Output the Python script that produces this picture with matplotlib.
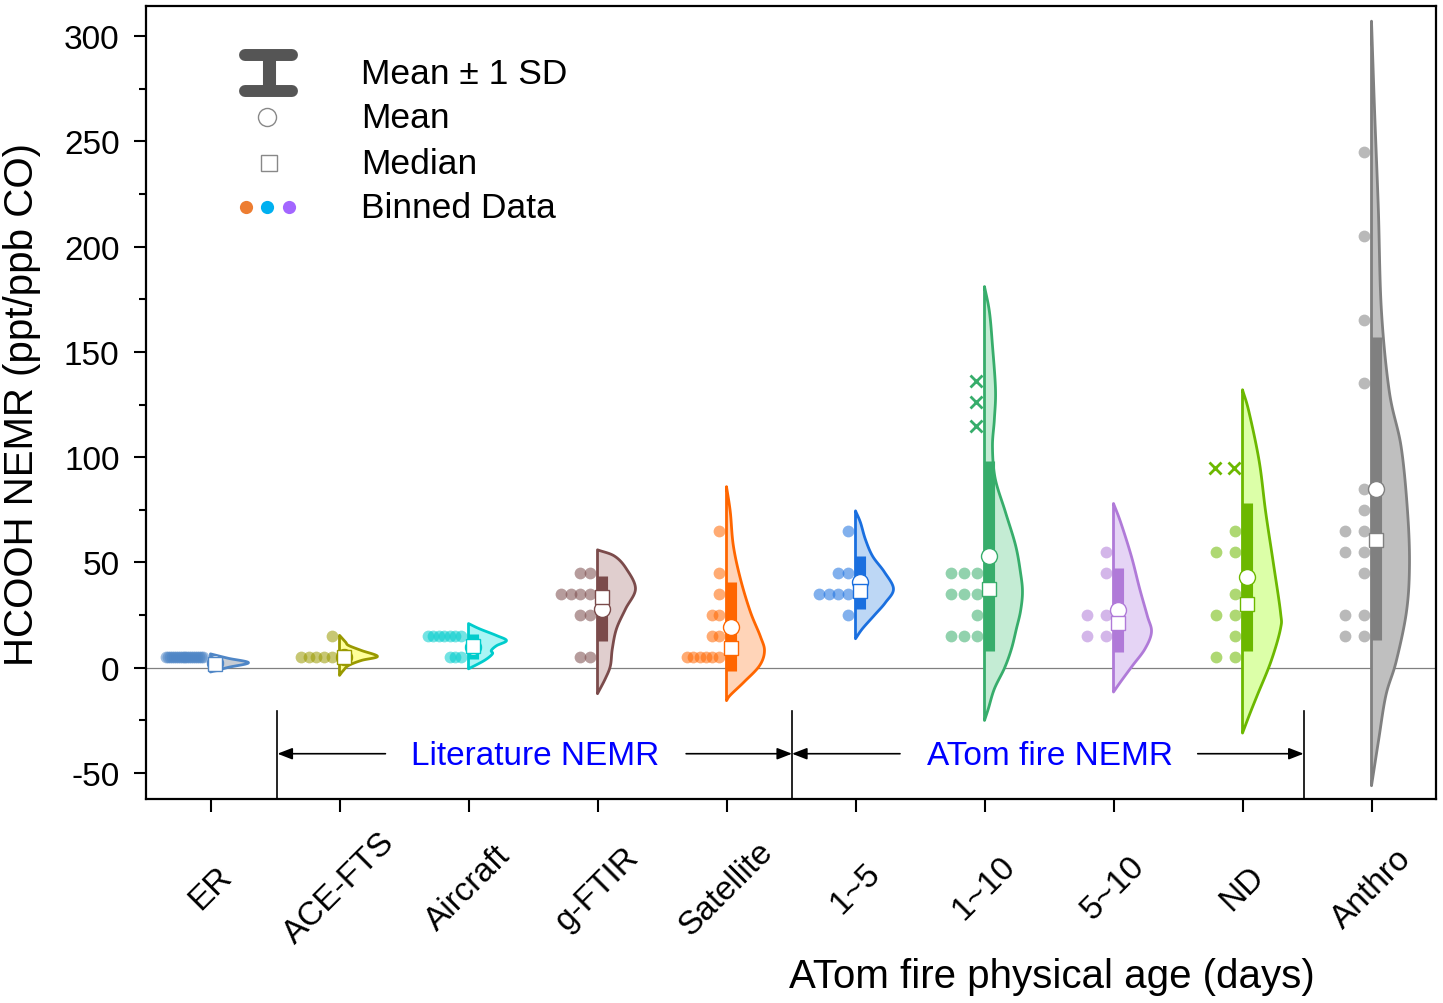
import numpy as np
import matplotlib
matplotlib.use('Agg')
import matplotlib.pyplot as plt
from matplotlib.ticker import MultipleLocator

plt.rcParams['font.family'] = ['Liberation Sans', 'DejaVu Sans']
plt.rcParams['axes.unicode_minus'] = False

categories = ['ER', 'ACE-FTS', 'Aircraft', 'g-FTIR', 'Satellite', '1~5', '1~10', '5~10', 'ND', 'Anthro']

# binned data, one entry per dot (bin centre)
dots_er = [5] * 20
dots_ace = [5, 5, 5, 5, 5, 15]
dots_aircraft = [5, 5, 5, 15, 15, 15, 15, 15, 15, 15]
dots_gftir = [5, 5, 25, 25, 35, 35, 35, 35, 45, 45]
dots_satellite = [5, 5, 5, 5, 5, 5, 15, 15, 25, 25, 35, 45, 65]
dots_1to5 = [25, 35, 35, 35, 35, 45, 45, 65]
dots_1to10 = [15, 15, 15, 25, 35, 35, 35, 45, 45, 45]
dots_5to10 = [15, 15, 25, 25, 45, 55]
dots_nd = [5, 5, 15, 25, 25, 35, 55, 55, 65]
dots_anthro = [15, 15, 25, 25, 45, 55, 55, 65, 65, 75, 85, 135, 165, 205, 245]
outliers_1to10 = [115, 126, 136]
outliers_nd = [95, 95]

means = [2.5, 5, 10, 28, 19.5, 40.5, 53, 27.5, 43, 85]
medians = [2, 5.2, 10.4, 33.5, 9.4, 36.6, 37.5, 21.4, 30.4, 60.8]
sds = [1, 1, 6, 15.5, 21, 12.8, 45, 20, 35, 72]

# violin outlines: value knots and relative density
shape_er = ([-2, 0.2, 2.4, 4.5, 6.6], [0, 0.47, 1, 0.47, 0])
shape_ace = ([-3.6, -1.3, 1.1, 3.5, 5.4, 8.2, 10.6, 12.2, 15.4],
             [0, 0.1, 0.24, 0.58, 1, 0.58, 0.24, 0.16, 0])
shape_aircraft = ([-0.5, 3.5, 6.6, 8.2, 10.5, 12.9, 15.3, 18.5, 21],
                  [0, 0.42, 0.63, 0.6, 0.74, 1, 0.74, 0.29, 0])
shape_gftir = ([-12.3, -5, 1, 9, 18.5, 28, 37.5, 47, 53, 56],
               [0, 0.21, 0.34, 0.39, 0.5, 0.74, 1, 0.76, 0.45, 0])
shape_satellite = ([-15.6, -13, -6.6, 1, 8, 15, 26.5, 42, 58, 74, 86],
                   [0, 0.1, 0.47, 0.87, 1, 0.89, 0.63, 0.37, 0.18, 0.1, 0])
shape_1to5 = ([13.8, 18.5, 25, 31, 37.5, 45.5, 53, 61, 69, 74.5],
              [0, 0.18, 0.5, 0.79, 1, 0.76, 0.45, 0.26, 0.13, 0])
shape_1to10 = ([-25, -19.5, -10, 0, 9, 18.5, 27, 36, 45, 58, 74, 90, 105, 118, 132, 153, 169, 181],
               [0, 0.1, 0.26, 0.53, 0.71, 0.84, 0.95, 1, 0.95, 0.82, 0.55, 0.28, 0.21, 0.26, 0.29, 0.21, 0.13, 0])
shape_5to10 = ([-11.5, -6.6, 1, 9, 17, 24.7, 37.5, 53, 69, 78],
               [0, 0.19, 0.5, 0.83, 1, 0.89, 0.69, 0.47, 0.19, 0])
shape_nd = ([-31, -22, -13, 3, 18.5, 26.5, 50, 74, 98, 121.5, 132],
            [0, 0.19, 0.39, 0.75, 1, 1, 0.81, 0.61, 0.44, 0.17, 0])
shape_anthro = ([-56, -34, -13, 3, 26.5, 48.5, 74, 105, 131, 170, 218, 265, 307],
                [0, 0.19, 0.38, 0.65, 0.92, 1, 0.95, 0.78, 0.47, 0.26, 0.18, 0.08, 0])

edge_colors = ['#4f86c6', '#999900', '#00cccc', '#7b4b4b', '#ff6600',
               '#1a6fdf', '#37ad6b', '#b07ad8', '#6cb800', '#808080']
fill_colors = ['#c8cdd4', '#ffff99', '#aaf5f5', '#e0cece', '#ffd4b8',
               '#bdd7f5', '#c4ecd4', '#e5d4f5', '#dcffa8', '#bfbfbf']

all_dots = [dots_er, dots_ace, dots_aircraft, dots_gftir, dots_satellite,
            dots_1to5, dots_1to10, dots_5to10, dots_nd, dots_anthro]
all_shapes = [shape_er, shape_ace, shape_aircraft, shape_gftir, shape_satellite,
              shape_1to5, shape_1to10, shape_5to10, shape_nd, shape_anthro]
all_outliers = {6: outliers_1to10, 8: outliers_nd}


def smooth(ys, ds, n=16):
    # catmull-rom through the knots
    P = np.column_stack([ys, ds]).astype(float)
    P = np.vstack([2 * P[0] - P[1], P, 2 * P[-1] - P[-2]])
    out = []
    t = np.linspace(0, 1, n, endpoint=False)[:, None]
    for i in range(1, len(P) - 2):
        p0, p1, p2, p3 = P[i - 1], P[i], P[i + 1], P[i + 2]
        seg = 0.5 * (2 * p1 + (-p0 + p2) * t + (2 * p0 - 5 * p1 + 4 * p2 - p3) * t ** 2
                     + (-p0 + 3 * p1 - 3 * p2 + p3) * t ** 3)
        out.append(seg)
    out.append(P[-2][None])
    r = np.vstack(out)
    return r[:, 0], np.clip(r[:, 1], 0, None)


W, H = 1443, 1004
fig = plt.figure(figsize=(W / 100, H / 100), dpi=100)
ax = fig.add_axes([146 / W, 1 - 800 / H, 1290 / W, 793 / H])
ax.set_xlim(0.5, 10.5)
ax.set_ylim(-62.3, 314.2)

px = 1 / 129.1  # one pixel in x data units
half_width = 38 * px
bar_off = 5 * px

ax.axhline(0, color='#808080', lw=0.9, zorder=0)

for i, name in enumerate(categories):
    pos = i + 1
    ec = edge_colors[i]
    ys, ds = smooth(*all_shapes[i])
    xs = pos + ds * half_width
    vx = np.concatenate([[pos], xs, [pos]])
    vy = np.concatenate([[ys[0]], ys, [ys[-1]]])
    ax.fill(vx, vy, facecolor=fill_colors[i], edgecolor=ec, lw=2, zorder=2, joinstyle='round')

    # binned dots, right aligned rows
    vals, counts = np.unique(all_dots[i], return_counts=True)
    out = all_outliers.get(i, [])
    ov, oc = np.unique(out, return_counts=True) if len(out) else ([], [])
    maxn = max(list(counts) + list(oc))
    spacing = 38 / maxn * px
    for v, c in zip(vals, counts):
        dx = pos - 8 * px - np.arange(c) * spacing
        ax.scatter(dx, [v] * c, s=72, color=ec, alpha=0.55, lw=0, zorder=3)
    for v, c in zip(ov, oc):
        dx = pos - 9 * px - np.arange(c) * spacing
        ax.plot(dx, [v] * c, 'x', color=ec, ms=9, mew=2, zorder=3)

    m, md, s = means[i], medians[i], sds[i]
    ax.plot([pos + bar_off] * 2, [m - s, m + s], color=ec, lw=8, solid_capstyle='butt', zorder=4)
    ax.plot(pos + bar_off, m, 'o', ms=11.5, mfc='white', mec=ec, mew=1, zorder=5)
    ax.plot(pos + bar_off, md, 's', ms=9.5, mfc='white', mec=ec, mew=1, zorder=6)

# group separators and arrows
for xv in [1.519, 5.508, 9.474]:
    ax.plot([xv, xv], [-20.4, -62.3], color='black', lw=1.2, zorder=1)
arrow = dict(arrowstyle='-|>,head_length=0.9,head_width=0.35', color='black', lw=1.2,
             shrinkA=0, shrinkB=0)
ax.annotate('', xy=(1.519, -40.8), xytext=(2.356, -40.8), arrowprops=arrow)
ax.annotate('', xy=(5.508, -40.8), xytext=(4.687, -40.8), arrowprops=arrow)
ax.annotate('', xy=(5.508, -40.8), xytext=(6.345, -40.8), arrowprops=arrow)
ax.annotate('', xy=(9.474, -40.8), xytext=(8.653, -40.8), arrowprops=arrow)
ax.text(3.517, -41.5, 'Literature NEMR', color='#0000ff', fontsize=24, ha='center', va='center')
ax.text(7.51, -41.5, 'ATom fire NEMR', color='#0000ff', fontsize=24, ha='center', va='center')

# legend
def fx(p):
    return (p - 146) / 1290


def fy(p):
    return (800 - p) / 793


tr = ax.transAxes
ax.plot([fx(245), fx(292)], [fy(56), fy(56)], color='#555555', lw=8.6, solid_capstyle='round', transform=tr)
ax.plot([fx(245), fx(292)], [fy(92), fy(92)], color='#555555', lw=8.6, solid_capstyle='round', transform=tr)
ax.plot([fx(268.5), fx(268.5)], [fy(56), fy(92)], color='#555555', lw=9.4, solid_capstyle='butt', transform=tr)
ax.plot(fx(267), fy(118), 'o', ms=13, mfc='white', mec='#888888', mew=1, transform=tr)
ax.plot(fx(269), fy(164), 's', ms=11.5, mfc='white', mec='#888888', mew=1, transform=tr)
for xp, c in zip([246, 267, 289], ['#ed7d31', '#00b0f0', '#a366ff']):
    ax.plot(fx(xp), fy(208), 'o', ms=9.5, color=c, mew=0, transform=tr)
for yp, t in zip([74, 119, 164, 209], ['Mean ± 1 SD', 'Mean', 'Median', 'Binned Data']):
    ax.text(fx(361), fy(yp), t, fontsize=25.5, ha='left', va='center', transform=tr)

# axes styling
for sp in ax.spines.values():
    sp.set_linewidth(1.6)
ax.set_xticks(range(1, 11))
ax.set_xticklabels(categories, rotation=45, ha='center', va='center', fontsize=24)
ax.yaxis.set_major_locator(MultipleLocator(50))
ax.yaxis.set_minor_locator(MultipleLocator(25))
ax.tick_params(axis='both', which='major', direction='out', length=9, width=1.5, labelsize=24)
ax.tick_params(axis='x', pad=55)
ax.tick_params(axis='y', which='minor', direction='out', length=5, width=1.5)
ax.tick_params(axis='y', pad=10)

fig.text(22 / W, 1 - 405 / H, 'HCOOH NEMR (ppt/ppb CO)', rotation=90, fontsize=29, ha='center', va='center')
fig.text(1052 / W, 1 - 977 / H, 'ATom fire physical age (days)', fontsize=29, ha='center', va='center')

fig.savefig('out.png', dpi=100)
